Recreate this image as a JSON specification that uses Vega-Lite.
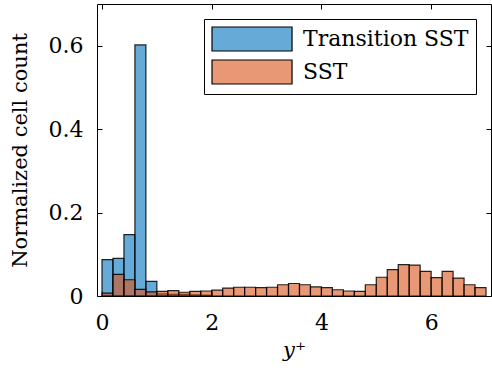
{
  "$schema": "https://vega.github.io/schema/vega-lite/v6.json",
  "autosize": "none",
  "padding": {"left": 97, "top": 4, "right": 1, "bottom": 76},
  "width": 394,
  "height": 292,
  "config": {
    "font": "DejaVu Serif",
    "view": {"stroke": "black", "strokeWidth": 1},
    "axis": {"grid": false, "domain": false, "tickColor": "black", "labelColor": "black", "titleColor": "black", "labelFont": "DejaVu Serif", "titleFont": "DejaVu Serif", "labelFontSize": 22, "titleFontSize": 21, "titleFontWeight": "normal"},
    "legend": {"labelFont": "DejaVu Serif"}
  },
  "data": {"values": [
    {"s": "Transition SST", "b0": 0.0, "b1": 0.2, "v": 0.087},
    {"s": "Transition SST", "b0": 0.2, "b1": 0.4, "v": 0.090},
    {"s": "Transition SST", "b0": 0.4, "b1": 0.6, "v": 0.147},
    {"s": "Transition SST", "b0": 0.6, "b1": 0.8, "v": 0.602},
    {"s": "Transition SST", "b0": 0.8, "b1": 1.0, "v": 0.035},
    {"s": "Transition SST", "b0": 1.0, "b1": 1.2, "v": 0.005},
    {"s": "Transition SST", "b0": 1.2, "b1": 1.4, "v": 0.004},
    {"s": "Transition SST", "b0": 1.4, "b1": 1.6, "v": 0.004},
    {"s": "Transition SST", "b0": 1.6, "b1": 1.8, "v": 0.003},
    {"s": "Transition SST", "b0": 1.8, "b1": 2.0, "v": 0.002},
    {"s": "SST", "b0": 0.0, "b1": 0.2, "v": 0.007},
    {"s": "SST", "b0": 0.2, "b1": 0.4, "v": 0.052},
    {"s": "SST", "b0": 0.4, "b1": 0.6, "v": 0.039},
    {"s": "SST", "b0": 0.6, "b1": 0.8, "v": 0.016},
    {"s": "SST", "b0": 0.8, "b1": 1.0, "v": 0.010},
    {"s": "SST", "b0": 1.0, "b1": 1.2, "v": 0.011},
    {"s": "SST", "b0": 1.2, "b1": 1.4, "v": 0.013},
    {"s": "SST", "b0": 1.4, "b1": 1.6, "v": 0.009},
    {"s": "SST", "b0": 1.6, "b1": 1.8, "v": 0.011},
    {"s": "SST", "b0": 1.8, "b1": 2.0, "v": 0.012},
    {"s": "SST", "b0": 2.0, "b1": 2.2, "v": 0.014},
    {"s": "SST", "b0": 2.2, "b1": 2.4, "v": 0.019},
    {"s": "SST", "b0": 2.4, "b1": 2.6, "v": 0.021},
    {"s": "SST", "b0": 2.6, "b1": 2.8, "v": 0.021},
    {"s": "SST", "b0": 2.8, "b1": 3.0, "v": 0.020},
    {"s": "SST", "b0": 3.0, "b1": 3.2, "v": 0.021},
    {"s": "SST", "b0": 3.2, "b1": 3.4, "v": 0.027},
    {"s": "SST", "b0": 3.4, "b1": 3.6, "v": 0.030},
    {"s": "SST", "b0": 3.6, "b1": 3.8, "v": 0.027},
    {"s": "SST", "b0": 3.8, "b1": 4.0, "v": 0.022},
    {"s": "SST", "b0": 4.0, "b1": 4.2, "v": 0.020},
    {"s": "SST", "b0": 4.2, "b1": 4.4, "v": 0.015},
    {"s": "SST", "b0": 4.4, "b1": 4.6, "v": 0.012},
    {"s": "SST", "b0": 4.6, "b1": 4.8, "v": 0.011},
    {"s": "SST", "b0": 4.8, "b1": 5.0, "v": 0.027},
    {"s": "SST", "b0": 5.0, "b1": 5.2, "v": 0.045},
    {"s": "SST", "b0": 5.2, "b1": 5.4, "v": 0.063},
    {"s": "SST", "b0": 5.4, "b1": 5.6, "v": 0.075},
    {"s": "SST", "b0": 5.6, "b1": 5.8, "v": 0.074},
    {"s": "SST", "b0": 5.8, "b1": 6.0, "v": 0.059},
    {"s": "SST", "b0": 6.0, "b1": 6.2, "v": 0.044},
    {"s": "SST", "b0": 6.2, "b1": 6.4, "v": 0.059},
    {"s": "SST", "b0": 6.4, "b1": 6.6, "v": 0.043},
    {"s": "SST", "b0": 6.6, "b1": 6.8, "v": 0.027},
    {"s": "SST", "b0": 6.8, "b1": 7.0, "v": 0.020}
  ]},
  "resolve": {"axis": {"x": "independent", "y": "independent"}},
  "layer": [
    {
      "mark": {"type": "bar", "fillOpacity": 0.6, "stroke": "black", "strokeWidth": 1.2, "strokeOpacity": 0.85, "clip": true, "orient": "vertical"},
      "encoding": {
        "x": {"field": "b0", "type": "quantitative", "scale": {"domain": [0, 7], "nice": false, "zero": false}, "axis": {"values": [0, 2, 4, 6], "tickSize": -5, "labelPadding": 21, "title": "y⁺", "titleFontStyle": "italic", "titlePadding": 6}},
        "x2": {"field": "b1"},
        "y": {"field": "v", "type": "quantitative", "stack": null, "scale": {"domain": [0, 0.7], "nice": false}, "axis": {"values": [0, 0.2, 0.4, 0.6], "format": "~g", "tickSize": -5, "labelPadding": 19, "title": "Normalized cell count", "titlePadding": 18}},
        "y2": {"datum": 0},
        "color": {"field": "s", "type": "nominal", "sort": ["Transition SST", "SST"], "scale": {"domain": ["Transition SST", "SST"], "range": ["#0072BD", "#D95319"]},
          "legend": {"title": null, "orient": "top-right", "offset": 15, "symbolType": "M-1,-1L5.67,-1L5.67,1L-1,1Z", "symbolSize": 576, "symbolStrokeColor": "black", "symbolStrokeWidth": 1.2, "labelFontSize": 22, "labelLimit": 0, "labelFont": "DejaVu Serif", "labelColor": "black", "labelOffset": 66, "rowPadding": 3, "strokeColor": "black", "fillColor": "white", "padding": 7, "cornerRadius": 0,
            "encode": {"symbols": {"update": {"fillOpacity": {"value": 0.6}}}}}},
        "order": {"field": "s", "sort": "descending"}
      }
    },
    {
      "mark": {"type": "bar", "opacity": 0, "orient": "vertical"},
      "encoding": {
        "x": {"field": "b0", "type": "quantitative", "axis": {"orient": "top", "values": [0, 2, 4, 6], "tickSize": -5, "labels": false, "title": null}},
        "x2": {"field": "b1"},
        "y": {"field": "v", "type": "quantitative", "stack": null, "axis": {"orient": "right", "values": [0, 0.2, 0.4, 0.6], "tickSize": -5, "labels": false, "title": null}},
        "y2": {"datum": 0}
      }
    }
  ]
}
